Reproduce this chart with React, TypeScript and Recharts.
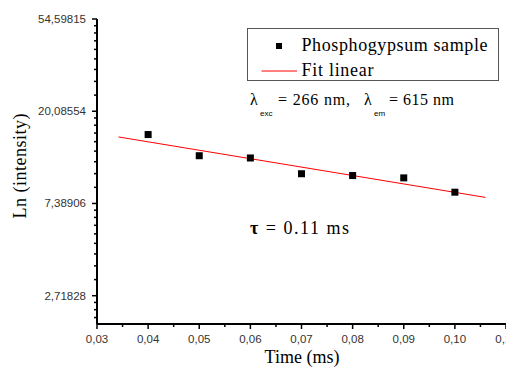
import React from "react";
import { ComposedChart, Scatter, Line, XAxis, YAxis, Legend } from "recharts";

const timeMs = [0.04, 0.05, 0.06, 0.07, 0.08, 0.09, 0.1];
const intensity = [15.6, 12.4, 12.1, 10.2, 10.0, 9.75, 8.35];

// linear fit (in ln space) endpoints
const fitTime = [0.0342, 0.106];
const fitIntensity = [15.2, 7.89];

const seriesNames = ["Phosphogypsum sample", "Fit linear"];

const xTicks = [
  0.03, 0.035, 0.04, 0.045, 0.05, 0.055, 0.06, 0.065, 0.07, 0.075, 0.08,
  0.085, 0.09, 0.095, 0.1, 0.105, 0.11,
];
const yMajorTicks = [2.71828, 7.38906, 20.08554, 54.59815];
const yMinorTicks = [
  2.145, 2.336, 2.527,
  3.237, 3.756, 4.275, 4.794, 5.313, 5.832, 6.351, 6.87,
  8.8, 10.211, 11.622, 13.032, 14.443, 15.854, 17.264, 18.675,
  23.92, 27.755, 31.589, 35.424, 39.259, 43.093, 46.928, 50.763,
];

const SERIF = '"Liberation Serif", "Times New Roman", serif';
const SANS = '"Liberation Sans", Arial, sans-serif';
const serif = { fontFamily: SERIF };
const sans = { fontFamily: SANS };

const samples = timeMs.map((t, i) => ({ t, v: intensity[i] }));
const fit = fitTime.map((t, i) => ({ t, v: fitIntensity[i] }));
const yTicks = [...yMajorTicks, ...yMinorTicks].sort((a, b) => a - b);

function YTick(props: any) {
  const { x, y, payload } = props;
  const major = yMajorTicks.includes(payload.value);
  return (
    <g>
      <line x1={x - (major ? 5 : 3)} x2={x} y1={y} y2={y} stroke="#000" strokeWidth={1.5} />
      {major && (
        <text x={x - 11} y={y} dy="0.35em" textAnchor="end" fontSize={11.5} style={sans} fill="#333">
          {payload.value.toFixed(5).replace(".", ",")}
        </text>
      )}
    </g>
  );
}

function XTick(props: any) {
  const { x, y, payload } = props;
  const major = Math.round(payload.value * 1000) % 10 === 0;
  return (
    <g>
      <line x1={x} x2={x} y1={y} y2={y + (major ? 5 : 3)} stroke="#000" strokeWidth={1.5} />
      {major && (
        <text x={x} y={y + 19} textAnchor="middle" fontSize={11.5} style={sans} fill="#333">
          {payload.value.toFixed(2).replace(".", ",")}
        </text>
      )}
    </g>
  );
}

const Square = (props: any) => {
  const { cx, cy } = props;
  return <rect x={cx - 3.5} y={cy - 3.5} width={7} height={7} fill="#000" />;
};

function LegendBox(props: any) {
  const payload = props.payload || [];
  const items = seriesNames
    .map((n) => payload.find((e: any) => e.value === n))
    .filter(Boolean);
  return (
    <svg width={252} height={53} style={{ display: "block" }}>
      <rect x={0.5} y={0.5} width={251} height={52} fill="#fff" stroke="#555" />
      {items.map((entry: any, i: number) => {
        const cy = i === 0 ? 18 : 43;
        return (
          <g key={entry.value}>
            {entry.type === "line" ? (
              <line x1={14.5} x2={50} y1={cy} y2={cy} stroke={entry.color} strokeWidth={1} />
            ) : (
              <rect x={29} y={cy - 3} width={6} height={6} fill="#000" />
            )}
            <text
              x={54.5}
              y={cy + (i === 0 ? 4.5 : 5)}
              fontSize={18}
              style={serif}
              fill="#000"
              textLength={i === 0 ? 186 : 72}
              lengthAdjust="spacing"
            >
              {entry.value}
            </text>
          </g>
        );
      })}
    </svg>
  );
}

export default function App() {
  return (
    <div
      style={{
        position: "absolute",
        left: 0,
        top: 0,
        width: 506,
        height: 367,
        overflow: "hidden",
        background: "#fff",
      }}
    >
      <ComposedChart width={560} height={367} margin={{ top: 19, right: 54, left: 0, bottom: 0 }}>
        <XAxis
          dataKey="t"
          type="number"
          domain={[0.03, 0.11]}
          ticks={xTicks}
          interval={0}
          allowDataOverflow
          tickSize={0}
          tickMargin={0}
          tickLine={false}
          tick={(p: any) => <XTick {...p} />}
          axisLine={{ stroke: "#000", strokeWidth: 2 }}
          height={43}
        />
        <YAxis
          dataKey="v"
          type="number"
          scale="log"
          domain={[2.0, 54.59815]}
          ticks={yTicks}
          interval={0}
          allowDataOverflow
          tickSize={0}
          tickMargin={0}
          tickLine={false}
          tick={(p: any) => <YTick {...p} />}
          axisLine={{ stroke: "#000", strokeWidth: 2 }}
          width={97}
        />
        <Legend
          verticalAlign="middle"
          align="center"
          layout="horizontal"
          wrapperStyle={{ left: 247, top: 28, width: 252, height: 53 }}
          content={(p: any) => <LegendBox {...p} />}
        />
        <Scatter
          name={seriesNames[0]}
          data={samples}
          dataKey="v"
          fill="#000"
          legendType="square"
          shape={Square}
          isAnimationActive={false}
        />
        <Line
          name={seriesNames[1]}
          data={fit}
          dataKey="v"
          type="linear"
          stroke="#ff0000"
          strokeWidth={1}
          dot={false}
          legendType="line"
          isAnimationActive={false}
        />
      </ComposedChart>

      <svg
        width={506}
        height={367}
        style={{ position: "absolute", left: 0, top: 0, pointerEvents: "none" }}
      >
        <text
          transform="translate(26,166) rotate(-90)"
          textAnchor="middle"
          fontSize={18}
          style={serif}
          textLength={105}
          lengthAdjust="spacing"
        >
          Ln (intensity)
        </text>
        <text x={302} y={363} textAnchor="middle" fontSize={18} style={serif} textLength={75} lengthAdjust="spacing">
          Time (ms)
        </text>
        <text y={105} fontSize={16} style={serif} fill="#000">
          <tspan x={250} style={serif}>λ</tspan>
          <tspan x={260} dy={11} fontSize={8} style={sans}>exc</tspan>
          <tspan x={278} dy={-11} style={serif} textLength={72} lengthAdjust="spacing">= 266 nm,</tspan>
          <tspan x={364} style={serif}>λ</tspan>
          <tspan x={374} dy={11} fontSize={8} style={sans}>em</tspan>
          <tspan x={389} dy={-11} style={serif} textLength={65} lengthAdjust="spacing">= 615 nm</tspan>
        </text>
        <text x={250} y={234} fontSize={18} style={serif} fill="#000" textLength={99} lengthAdjust="spacing">
          <tspan fontWeight="bold">τ</tspan>
          <tspan> = 0.11 ms</tspan>
        </text>
      </svg>
    </div>
  );
}
